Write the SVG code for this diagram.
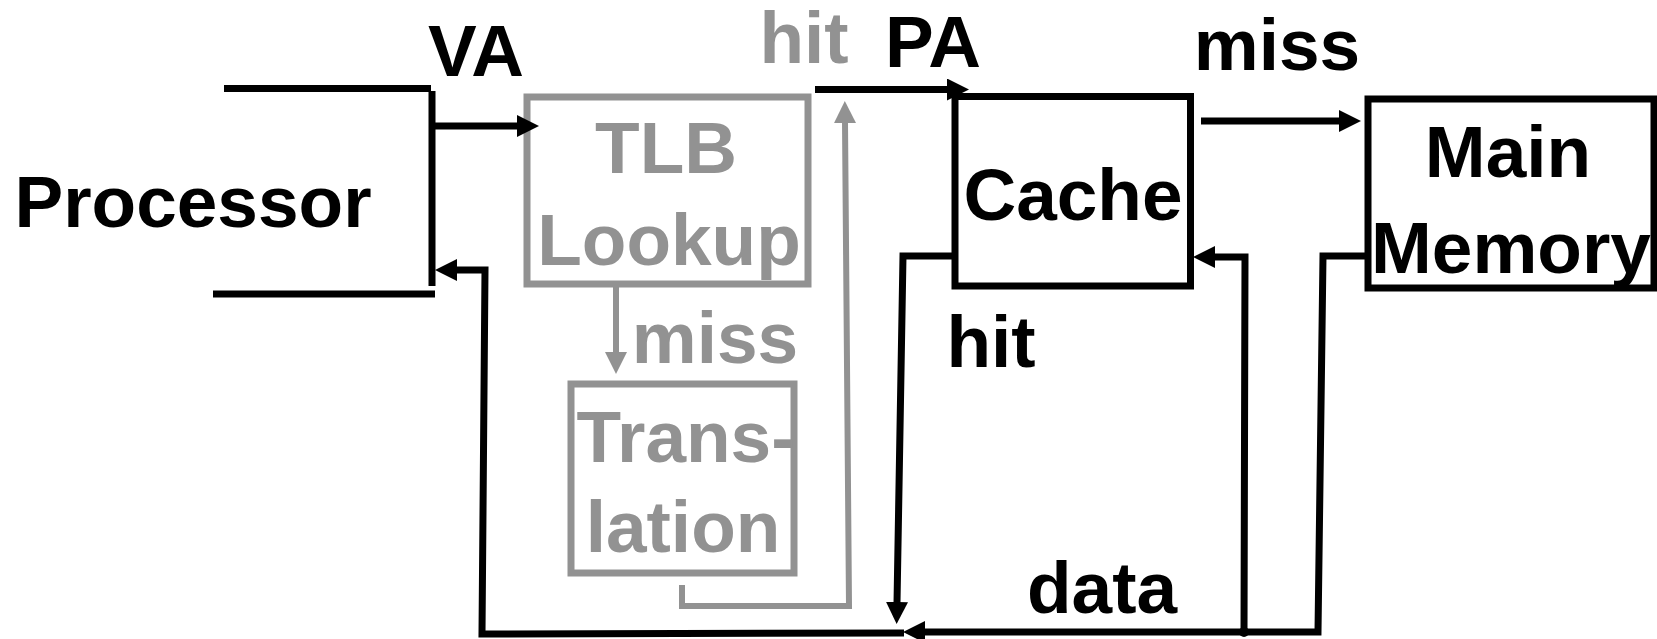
<svg xmlns="http://www.w3.org/2000/svg" width="1657" height="639" viewBox="0 0 1657 639">
<style>
text{font-family:"Liberation Sans",Arial,sans-serif;font-weight:bold;font-size:73px;text-anchor:middle}
.k{fill:#000}
.g{fill:#929292}
.box{fill:none;stroke:#000;stroke-width:7}
.gbox{fill:none;stroke:#929292;stroke-width:7}
.ln{fill:none;stroke:#000;stroke-width:7}
.gln{fill:none;stroke:#929292;stroke-width:6}
</style>
<defs>
<marker id="ak" viewBox="0 0 22 22" refX="1" refY="11" markerWidth="22" markerHeight="22" markerUnits="userSpaceOnUse" orient="auto"><path d="M0,0 L22,11 L0,22 z" fill="#000"/></marker>
<marker id="ag" viewBox="0 0 22 22" refX="1" refY="11" markerWidth="22" markerHeight="22" markerUnits="userSpaceOnUse" orient="auto"><path d="M0,0 L22,11 L0,22 z" fill="#929292"/></marker>
</defs>
<g id="processor">
<path class="ln" d="M224,88.5 H431 M432,91 V286 M213,294 H435"/>
<text class="k" x="193" y="227">Processor</text>
</g>
<g id="tlb">
<rect class="gbox" x="527" y="97" width="281" height="187"/>
<text class="g" x="666" y="173">TLB</text>
<text class="g" x="669" y="265">Lookup</text>
</g>
<g id="translation">
<rect class="gbox" x="571" y="384" width="223" height="189"/>
<text class="g" x="686" y="462">Trans-</text>
<text class="g" x="683" y="552">lation</text>
</g>
<g id="cache">
<rect class="box" x="955" y="96.5" width="235.5" height="189.5"/>
<text class="k" x="1073" y="220">Cache</text>
</g>
<g id="memory">
<rect class="box" x="1368" y="99" width="286" height="189"/>
<text class="k" x="1508" y="177">Main</text>
<text class="k" x="1511" y="273">Memory</text>
</g>
<g id="connectors">
<path class="ln" d="M432,126 H518" marker-end="url(#ak)"/>
<path class="ln" d="M815,89.5 H948" marker-end="url(#ak)"/>
<path class="ln" d="M1201,121 H1340" marker-end="url(#ak)"/>
<path class="ln" d="M1368,256 H1323 L1318,632 H924" marker-end="url(#ak)"/>
<path class="ln" d="M1244,632 L1245,257 H1214" marker-end="url(#ak)"/>
<path class="ln" d="M955,256 H903 L897,603" marker-end="url(#ak)"/>
<path class="ln" d="M904,633 L482,634 L485,270 H456" marker-end="url(#ak)"/>
<circle cx="1244" cy="632" r="5" fill="#000"/>
<path class="gln" d="M616,284 V353" marker-end="url(#ag)"/>
<path class="gln" d="M682,585 V606 H849 L845,122" marker-end="url(#ag)"/>
</g>
<g id="labels">
<text class="k" x="476" y="76">VA</text>
<text class="g" x="804" y="63">hit</text>
<text class="k" x="933" y="67">PA</text>
<text class="k" x="1277" y="70">miss</text>
<text class="g" x="715" y="363">miss</text>
<text class="k" x="991" y="367">hit</text>
<text class="k" x="1102" y="613">data</text>
</g>
</svg>
